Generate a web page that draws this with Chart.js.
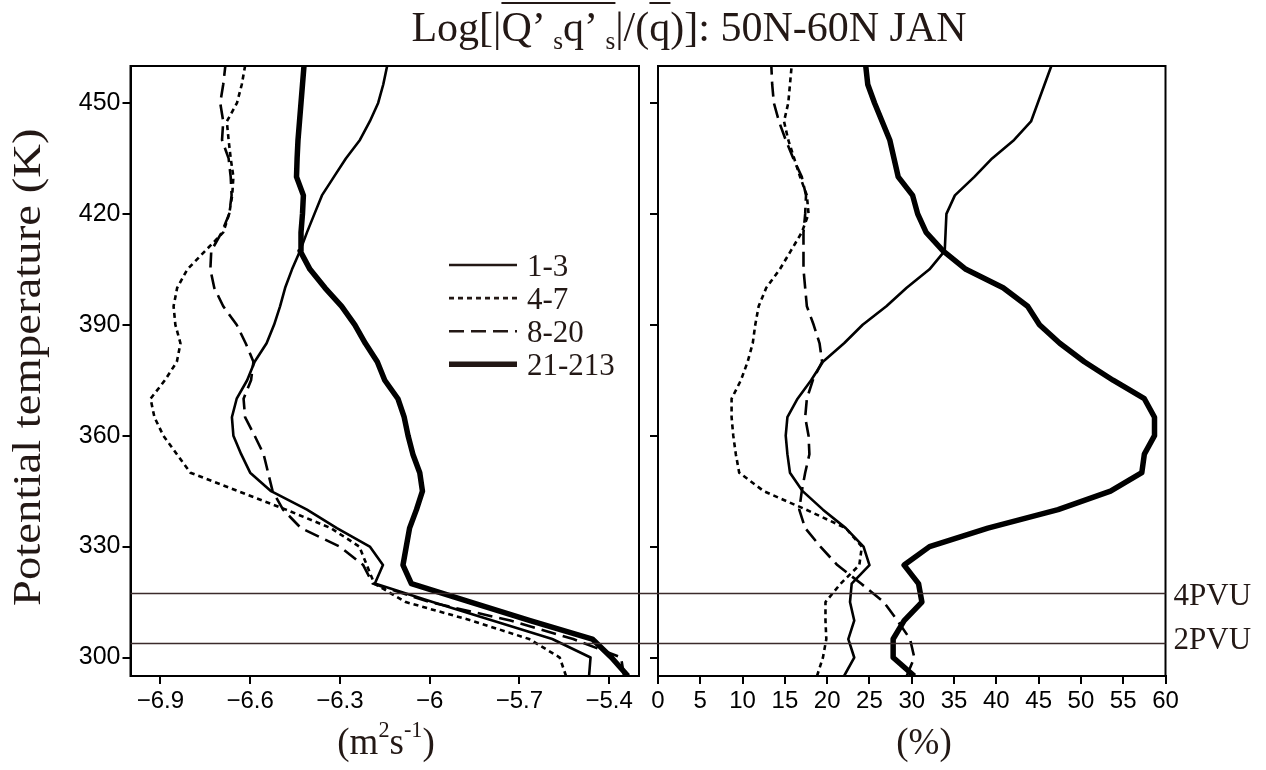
<!DOCTYPE html>
<html><head><meta charset="utf-8">
<script src="https://cdn.jsdelivr.net/npm/chart.js@4.4.1/dist/chart.umd.min.js"></script>
<style>
html,body{margin:0;padding:0;background:#fff;width:1266px;height:770px;overflow:hidden;}
#wrap{position:relative;width:1266px;height:770px;}
#c1{position:absolute;left:0;top:0;}
#c2{position:absolute;left:647px;top:0;}
.lbl{position:absolute;font-family:'Liberation Serif',serif;color:#231815;white-space:nowrap;}
#title{left:689px;top:6px;transform:translateX(-50%);font-size:42px;line-height:42px;}
.ov{border-top:2px solid #231815;}
#title sub{font-size:0.6em;vertical-align:-0.3em;line-height:0;}
.unit{top:722px;font-size:37px;line-height:40px;transform:translateX(-50%);}
.unit sup{font-size:0.6em;vertical-align:0.75em;line-height:0;}
</style>
</head><body>
<div id="wrap">
<canvas id="c1" width="647" height="770"></canvas>
<canvas id="c2" width="619" height="770"></canvas>
<div id="title" class="lbl">Log[|<span class="ov">Q’ <sub>s</sub>q’ <sub>s</sub></span>|/(<span class="ov">q</span>)]: 50N-60N JAN</div>
<div class="lbl unit" style="left:386px;">(m<sup>2</sup>s<sup>-1</sup>)</div>
<div class="lbl unit" style="left:924px;">(%)</div>
</div>
<script>
// ---- data ----
const theta = [295,300,305,310,315,320,325,330,335,340,345,350,355,360,365,370,375,380,385,390,395,400,405,410,415,420,425,430,435,440,445,450,455,460];
const seriesNames = ['1-3','4-7','8-20','21-213'];

// left panel: Log|Q's q's| (m2 s-1)
const flux_1_3 = [-5.467,-5.462,-5.59,-5.79,-5.99,-6.183,-6.156,-6.2,-6.31,-6.41,-6.53,-6.6,-6.63,-6.656,-6.661,-6.645,-6.61,-6.585,-6.545,-6.52,-6.5,-6.483,-6.46,-6.433,-6.41,-6.385,-6.36,-6.32,-6.28,-6.233,-6.2,-6.172,-6.155,-6.142];
const flux_4_7 = [-5.544,-5.565,-5.667,-5.86,-6.08,-6.185,-6.21,-6.235,-6.33,-6.48,-6.64,-6.8,-6.845,-6.89,-6.92,-6.933,-6.885,-6.845,-6.833,-6.85,-6.856,-6.844,-6.81,-6.75,-6.69,-6.67,-6.66,-6.656,-6.665,-6.672,-6.678,-6.644,-6.628,-6.617];
const flux_8_20 = [-5.35,-5.36,-5.52,-5.73,-6.0,-6.19,-6.222,-6.3,-6.43,-6.49,-6.525,-6.54,-6.555,-6.585,-6.617,-6.622,-6.597,-6.589,-6.615,-6.645,-6.69,-6.72,-6.733,-6.73,-6.695,-6.67,-6.662,-6.665,-6.672,-6.694,-6.69,-6.7,-6.69,-6.683];
const flux_21_213 = [-5.337,-5.392,-5.456,-5.664,-5.863,-6.061,-6.089,-6.078,-6.067,-6.044,-6.024,-6.033,-6.056,-6.072,-6.085,-6.106,-6.15,-6.175,-6.215,-6.25,-6.294,-6.35,-6.4,-6.433,-6.43,-6.425,-6.422,-6.445,-6.443,-6.44,-6.435,-6.43,-6.425,-6.42];

// right panel: percentage (%)
const pct_1_3 = [22.0,23.2,22.5,23.2,22.7,22.9,25.0,24.3,22.2,19.5,17.1,15.6,15.3,15.1,15.3,16.5,18.1,19.5,22.0,24.2,27.0,29.4,32.1,33.9,34.0,34.1,35.1,37.4,39.5,42.1,44.1,44.9,45.7,46.5];
const pct_4_7 = [18.8,19.5,19.9,19.8,19.8,21.6,23.8,24.1,22.2,17.5,12.5,9.6,9.2,8.9,8.7,8.7,9.8,10.6,11.2,11.5,11.9,12.8,14.4,15.7,17.0,17.8,17.6,16.8,16.1,15.4,14.9,15.4,15.6,15.8];
const pct_8_20 = [29.4,30.3,29.8,28.3,26.7,24.0,21.2,19.2,17.4,16.7,17.0,17.4,17.9,17.8,17.4,17.6,18.3,19.4,19.1,18.4,17.6,17.4,17.2,17.2,17.2,17.4,17.5,17.0,16.0,15.1,14.3,13.7,13.5,13.4];
const pct_21_213 = [30.3,27.8,27.8,29.1,31.2,30.8,29.1,32.1,39.0,47.3,53.5,57.2,57.5,58.7,58.7,57.5,53.8,50.4,47.5,45.1,43.7,40.8,36.4,33.7,31.7,30.7,30.1,28.4,27.9,27.4,26.5,25.6,24.8,24.56];

// axes
const yTicks = [300,330,360,390,420,450];
const leftXTicks = [-6.9,-6.6,-6.3,-6,-5.7,-5.4];
const leftXTickLabels = ['\u22126.9','\u22126.6','\u22126.3','\u22126','\u22125.7','\u22125.4'];
const rightXTicks = [0,5,10,15,20,25,30,35,40,45,50,55,60];
const rightXTickLabels = ['0','5','10','15','20','25','30','35','40','45','50','55','60'];
const pvuLevels = [317.5, 303.8];
const pvuNames = ['4PVU','2PVU'];
const yTitle = 'Potential temperature (K)';

// ---- styles ----
const lineStyles = [
  {borderWidth:2.6, borderDash:[]},
  {borderWidth:2.6, borderDash:[5,4]},
  {borderWidth:2.6, borderDash:[15,7]},
  {borderWidth:5.5, borderDash:[]}
];
const TEXT = '#231815';
const XTICKFONT = {family:'Liberation Sans', size:24};
const YTICKFONT = {family:'Liberation Sans', size:25};

function makeDatasets(list){
  return list.map((vals,i)=>({
    label: seriesNames[i],
    data: vals.map((v,j)=>({x:v, y:theta[j]})),
    showLine:true, pointRadius:0, borderColor:'#000', backgroundColor:'#000',
    borderWidth: lineStyles[i].borderWidth, borderDash: lineStyles[i].borderDash,
    borderJoinStyle:'round', borderCapStyle:'butt', tension:0, fill:false
  }));
}

const framePlugin = {
  id:'frame',
  afterDatasetsDraw(chart){
    const {ctx, chartArea:a} = chart;
    ctx.save(); ctx.strokeStyle='#000'; ctx.lineWidth=2;
    ctx.strokeRect(a.left, a.top, a.right-a.left, a.bottom-a.top);
    ctx.restore();
  }
};

function pvuPlugin(side){
  return {
    id:'pvu'+side,
    afterDatasetsDraw(chart){
      const {ctx, chartArea:a} = chart; const ys = chart.scales.y;
      ctx.save(); ctx.strokeStyle='#3b2b2b'; ctx.lineWidth=1.6;
      pvuLevels.forEach((lv,i)=>{
        const py = Math.round(ys.getPixelForValue(lv))+0.5;
        ctx.beginPath();
        if(side==='left'){ ctx.moveTo(a.left, py); ctx.lineTo(chart.width, py); }
        else { ctx.moveTo(0, py); ctx.lineTo(a.right, py); }
        ctx.stroke();
        if(side==='right'){
          ctx.fillStyle=TEXT; ctx.font='31px "Liberation Serif"';
          ctx.textAlign='left'; ctx.textBaseline='alphabetic';
          ctx.fillText(pvuNames[i], a.right+8, py + 11 - (i===1?6:0));
        }
      });
      ctx.restore();
    }
  };
}

const legendPlugin = {
  id:'lgd',
  afterDatasetsDraw(chart){
    const {ctx} = chart;
    const x0=449, x1=517, y0=265, gap=33.1;
    ctx.save();
    chart.data.datasets.forEach((ds,i)=>{
      const y = y0 + i*gap;
      ctx.strokeStyle='#231815'; ctx.lineWidth = ds.borderWidth; ctx.setLineDash(ds.borderDash);
      ctx.beginPath(); ctx.moveTo(x0,y); ctx.lineTo(x1,y); ctx.stroke();
      ctx.setLineDash([]);
      ctx.fillStyle=TEXT; ctx.font='31px "Liberation Serif"';
      ctx.textAlign='left'; ctx.textBaseline='alphabetic';
      ctx.fillText(ds.label, 527, y+11);
    });
    ctx.restore();
  }
};

const yTitlePlugin = {
  id:'ytitle',
  afterDraw(chart){
    const ctx = chart.ctx;
    ctx.save();
    ctx.translate(40, 606); ctx.rotate(-Math.PI/2); ctx.scale(1.14,1);
    ctx.fillStyle=TEXT; ctx.font='41px "Liberation Serif"';
    ctx.textAlign='left'; ctx.textBaseline='alphabetic';
    ctx.fillText(yTitle, 0, 0);
    ctx.restore();
  }
};

function baseScales(xMin,xMax,xTicks,xLabels,yWidth,showYLabels){
  return {
    x:{type:'linear', position:'bottom', min:xMin, max:xMax,
      afterFit(s){ s.height = 94; },
      afterBuildTicks(s){ s.ticks = xTicks.map(v=>({value:v})); },
      ticks:{callback:(v,i)=>xLabels[i], font:XTICKFONT, color:'#000', padding:3, maxRotation:0, autoSkip:false},
      grid:{drawOnChartArea:false, drawTicks:true, tickLength:8, color:'#000', lineWidth:2},
      border:{display:true, color:'#000', width:2}
    },
    y:{type:'linear', position:'left', min:295, max:460,
      afterFit(s){ s.width = yWidth; },
      afterBuildTicks(s){ s.ticks = yTicks.map(v=>({value:v})); },
      ticks:{display:showYLabels, callback:(v)=>String(v), font:YTICKFONT, color:'#000', padding:2, autoSkip:false},
      grid:{drawOnChartArea:false, drawTicks:true, tickLength:8, color:'#000', lineWidth:2},
      border:{display:true, color:'#000', width:2}
    }
  };
}

const common = {responsive:false, animation:false, devicePixelRatio:1,
  plugins:{legend:{display:false}, tooltip:{enabled:false}}};

new Chart(document.getElementById('c1'), {
  type:'scatter',
  data:{datasets: makeDatasets([flux_1_3, flux_4_7, flux_8_20, flux_21_213])},
  options:Object.assign({}, common, {
    layout:{padding:{top:66, right:8, left:0, bottom:0}},
    scales: baseScales(-7.0, -5.3, leftXTicks, leftXTickLabels, 130.5, true)
  }),
  plugins:[framePlugin, pvuPlugin('left'), legendPlugin, yTitlePlugin]
});

new Chart(document.getElementById('c2'), {
  type:'scatter',
  data:{datasets: makeDatasets([pct_1_3, pct_4_7, pct_8_20, pct_21_213])},
  options:Object.assign({}, common, {
    layout:{padding:{top:66, right:100.5, left:0, bottom:0}},
    scales: baseScales(0, 60, rightXTicks, rightXTickLabels, 11, false)
  }),
  plugins:[framePlugin, pvuPlugin('right')]
});
</script>
</body></html>
